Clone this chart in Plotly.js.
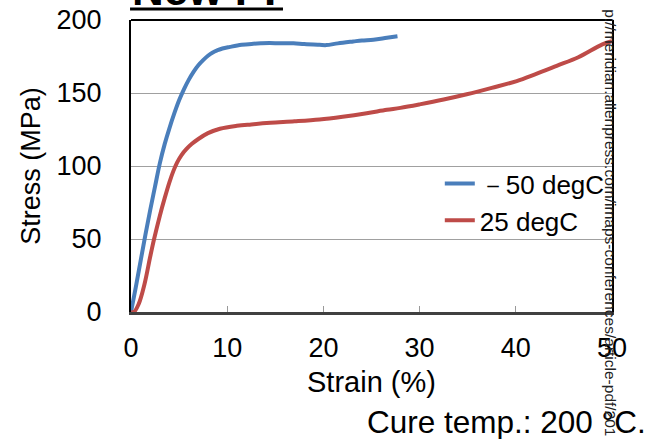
<!DOCTYPE html>
<html>
<head>
<meta charset="utf-8">
<script src="https://cdn.plot.ly/plotly-3.0.1.min.js"></script>
<style>html,body{margin:0;padding:0;background:#fff;}#chart{width:646px;height:439px;}</style>
</head>
<body>
<div id="chart"></div>
<script>
// -50 degC series
var strainCold = [0,0.5,1,1.5,2,2.5,3,3.5,4,4.5,5,5.5,6,6.5,7,7.5,8,8.5,9,9.5,10.3,11.5,12.7,13.5,14.4,15.5,16.9,18,19.6,20.3,21.5,23.1,24,25.2,26.6,27.7];
var stressCold = [0,17,35,53,70,86,102,115,126,136,145,152.5,159,164.5,169,172.5,175.5,177.8,179.3,180.5,181.6,183,183.7,184,184.2,184,184,183.5,183,182.8,184,185.3,186,186.5,187.8,188.8];
// 25 degC series
var strainRoom = [0,0.3,0.8,1.4,2,2.4,3,3.5,4,4.4,4.8,5.25,5.75,6.3,7,8,9.25,11,12.5,14.5,17,19.6,22,24.5,26.6,28,30,32.5,34.9,37.5,40.1,42,44.25,46.5,49,50];
var stressRoom = [0,0,5.5,19,38,50,66,78,89,96.5,102.5,107.5,111.5,115,118.5,122.5,125.5,127.5,128.5,129.6,130.6,131.9,133.8,136.2,138.5,139.8,142.2,145.5,149.1,153.5,158.2,162.8,168.6,174.5,183.3,185.5];
var seriesNames = ["\uFF0D50 degC", "25 degC"];
var xTicks = [0,10,20,30,40,50];
var yTicks = [0,50,100,150,200];

var FONT = "Liberation Sans, Arial, sans-serif";

var traces = [
  {x: strainCold, y: stressCold, name: seriesNames[0], type: "scatter", mode: "lines",
   line: {color: "#4A7EBB", width: 4, shape: "spline", smoothing: 1}},
  {x: strainRoom, y: stressRoom, name: seriesNames[1], type: "scatter", mode: "lines",
   line: {color: "#BE4B48", width: 4, shape: "spline", smoothing: 1}}
];

var layout = {
  width: 646, height: 439,
  margin: {l: 131, r: 34, t: 20, b: 127},
  paper_bgcolor: "#fff", plot_bgcolor: "#fff",
  font: {family: FONT, color: "#000", size: 27},
  showlegend: true,
  legend: {x: 0.642, y: 0.52, xanchor: "left", yanchor: "top",
           bgcolor: "rgba(0,0,0,0)", font: {family: FONT, size: 26, color: "#000"},
           tracegroupgap: 0},
  xaxis: {range: [0, 50], tickvals: xTicks, ticktext: xTicks.map(String),
          showgrid: false, zeroline: false,
          showline: true, linecolor: "#404040", linewidth: 3,
          ticks: "inside", ticklen: 6, tickcolor: "#999", tickwidth: 1,
          ticklabelstandoff: 10,
          tickfont: {family: FONT, size: 27, color: "#000"},
          title: {text: "Strain (%)", font: {family: FONT, size: 29, color: "#000"}, standoff: 10}},
  yaxis: {range: [0, 200], tickvals: yTicks, ticktext: yTicks.map(String),
          showgrid: true, gridcolor: "#a0a0a0", gridwidth: 1, zeroline: false,
          showline: true, linecolor: "#000", linewidth: 2, mirror: true,
          ticks: "", ticklabelstandoff: 22,
          tickfont: {family: FONT, size: 27, color: "#000"},
          title: {text: "Stress (MPa)", font: {family: FONT, size: 27, color: "#000"}, standoff: 8}},
  shapes: [
    {type: "line", xref: "paper", yref: "paper", x0: 0, x1: 1, y0: 1, y1: 1,
     line: {color: "#000", width: 2}},
    {type: "line", xref: "paper", yref: "paper", x0: -0.002, x1: 0.316, y0: 1.0377, y1: 1.0377,
     line: {color: "#000", width: 3}}
  ],
  annotations: [
    {text: "<b>New PI</b>", xref: "paper", yref: "paper", x: -0.002, y: 1.103,
     xanchor: "left", yanchor: "middle", showarrow: false,
     font: {family: FONT, size: 44, color: "#000"}},
    {text: "Cure temp.: 200 \u00B0C.", xref: "paper", yref: "paper", x: 1.0755, y: -0.378,
     xanchor: "right", yanchor: "middle", showarrow: false,
     font: {family: FONT, size: 31.5, color: "#000"}},
    {text: "p://meridian.allenpress.com/imaps-conferences/article-pdf/201", xref: "paper", yref: "paper",
     x: 0.998, y: 0.3075, xanchor: "center", yanchor: "middle", textangle: 90, showarrow: false,
     font: {family: FONT, size: 15.5, color: "#222"}}
  ]
};

Plotly.newPlot("chart", traces, layout, {displayModeBar: false, staticPlot: true});
</script>
</body>
</html>
